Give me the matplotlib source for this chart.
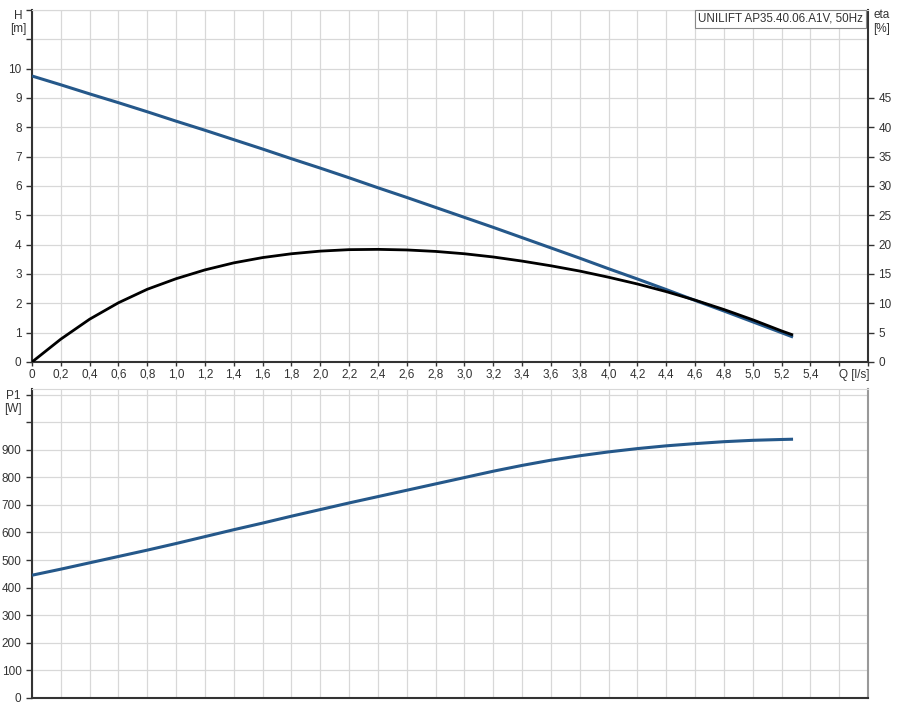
import matplotlib
matplotlib.use("Agg")
import matplotlib.pyplot as plt

plt.rcParams['font.family'] = ['Liberation Sans', 'DejaVu Sans']

# ---- data ----
q_h = [0, 0.2, 0.4, 0.6, 0.8, 1.0, 1.2, 1.4, 1.6, 1.8, 2.0, 2.2, 2.4, 2.6, 2.8, 3.0,
       3.2, 3.4, 3.6, 3.8, 4.0, 4.2, 4.4, 4.6, 4.8, 5.0, 5.2, 5.28]
head = [9.75, 9.45, 9.14, 8.84, 8.53, 8.21, 7.90, 7.58, 7.26, 6.93, 6.61, 6.28, 5.94,
        5.61, 5.27, 4.93, 4.59, 4.24, 3.89, 3.54, 3.18, 2.83, 2.47, 2.10, 1.74, 1.37,
        1.00, 0.85]

q_eta = [0, 0.2, 0.4, 0.6, 0.8, 1.0, 1.2, 1.4, 1.6, 1.8, 2.0, 2.2, 2.4, 2.6, 2.8, 3.0,
         3.2, 3.4, 3.6, 3.8, 4.0, 4.2, 4.4, 4.6, 4.8, 5.0, 5.2, 5.28]
eta = [0, 3.9, 7.3, 10.1, 12.4, 14.2, 15.7, 16.9, 17.8, 18.45, 18.9, 19.15, 19.2, 19.1,
       18.85, 18.45, 17.9, 17.2, 16.4, 15.5, 14.45, 13.3, 12.0, 10.55, 8.95, 7.2, 5.3, 4.6]

q_p = [0, 0.2, 0.4, 0.6, 0.8, 1.0, 1.2, 1.4, 1.6, 1.8, 2.0, 2.2, 2.4, 2.6, 2.8, 3.0,
       3.2, 3.4, 3.6, 3.8, 4.0, 4.2, 4.4, 4.6, 4.8, 5.0, 5.2, 5.28]
p1 = [445, 467, 490, 513, 536, 560, 585, 610, 634, 659, 683, 707, 730, 753, 776, 799,
      822, 843, 862, 878, 892, 904, 914, 922, 929, 934, 937, 938]

x_ticks = [round(0.2 * i, 1) for i in range(30)]
x_labels = [("0" if v == 0 else f"{v:.1f}".replace(".", ",")) for v in x_ticks]
x_labels[28] = "Q [l/s]"
x_labels[29] = ""
eta_ticks = list(range(0, 50, 5))
title = "UNILIFT AP35.40.06.A1V, 50Hz"

blue = '#25588a'
grid_c = '#d8d8d8'
spine_dark = '#333333'
txt_c = '#333333'
fs = 8.5

W, H = 900, 707
fig = plt.figure(figsize=(W / 100, H / 100), dpi=100)

def fx(px):
    return px / W

def fy(py):
    return 1 - py / H

ax1 = fig.add_axes([fx(32), fy(362), fx(868 - 32), (362 - 10) / H])
ax2 = fig.add_axes([fx(32), fy(698), fx(868 - 32), (698 - 389) / H])

for ax in (ax1, ax2):
    ax.set_xlim(0, 5.8)
    ax.set_xticks(x_ticks)
    ax.grid(True, color=grid_c, linewidth=0.9)
    ax.set_axisbelow(True)
    ax.spines['top'].set_color(grid_c)
    ax.spines['left'].set_color(spine_dark)
    ax.spines['bottom'].set_color(spine_dark)
    ax.spines['left'].set_linewidth(1.5)
    ax.spines['bottom'].set_linewidth(1.5)
    ax.tick_params(axis='both', labelsize=fs, colors=txt_c, length=4, width=1)
    ax.tick_params(axis='x', length=3)

# top axes
ax1.set_ylim(0, 12)
ax1.set_yticks(list(range(0, 13)))
ax1.set_yticklabels([str(v) if v <= 10 else "" for v in range(0, 13)])
ax1.set_xticklabels(x_labels)
ax1.tick_params(axis='x', pad=2)
ax1.get_xticklabels()[28].set_ha('left')
ax1.spines['right'].set_color(spine_dark)
ax1.spines['right'].set_linewidth(1.5)

ax1b = ax1.twinx()
ax1b.set_ylim(0, 60)
ax1b.set_yticks(eta_ticks)
ax1b.tick_params(axis='y', labelsize=fs, colors=txt_c, length=4, width=1)
for s in ax1b.spines.values():
    s.set_visible(False)

ax1.plot(q_h, head, color=blue, linewidth=2.2, solid_capstyle='butt', zorder=3)
ax1b.plot(q_eta, eta, color='black', linewidth=2.0, solid_capstyle='butt', zorder=4)

ax1.text(0.9945, 0.992, title, transform=ax1.transAxes, ha='right', va='top',
         fontsize=8.4, color=txt_c,
         bbox=dict(boxstyle='square,pad=0.25', facecolor='white', edgecolor='#888888', linewidth=0.8),
         zorder=5)

fig.text(fx(18), fy(16), "H", ha='center', va='center', fontsize=fs, color=txt_c)
fig.text(fx(18), fy(29), "[m]", ha='center', va='center', fontsize=fs, color=txt_c)
fig.text(fx(882), fy(15), "eta", ha='center', va='center', fontsize=fs, color=txt_c)
fig.text(fx(882), fy(29), "[%]", ha='center', va='center', fontsize=fs, color=txt_c)

# bottom axes
ax2.set_ylim(0, 1120)
ax2.set_yticks(list(range(0, 1200, 100)))
ax2.set_yticklabels([str(v) if v <= 900 else "" for v in range(0, 1200, 100)])
ax2.set_xticklabels([])
ax2.tick_params(axis='x', length=0)
ax2.spines['right'].set_color('#999999')
ax2.spines['right'].set_linewidth(1.5)
ax2.plot(q_p, p1, color=blue, linewidth=2.2, solid_capstyle='butt', zorder=3)

fig.text(fx(13), fy(396), "P1", ha='center', va='center', fontsize=fs, color=txt_c)
fig.text(fx(13), fy(409), "[W]", ha='center', va='center', fontsize=fs, color=txt_c)

fig.savefig("out.png", dpi=100)
